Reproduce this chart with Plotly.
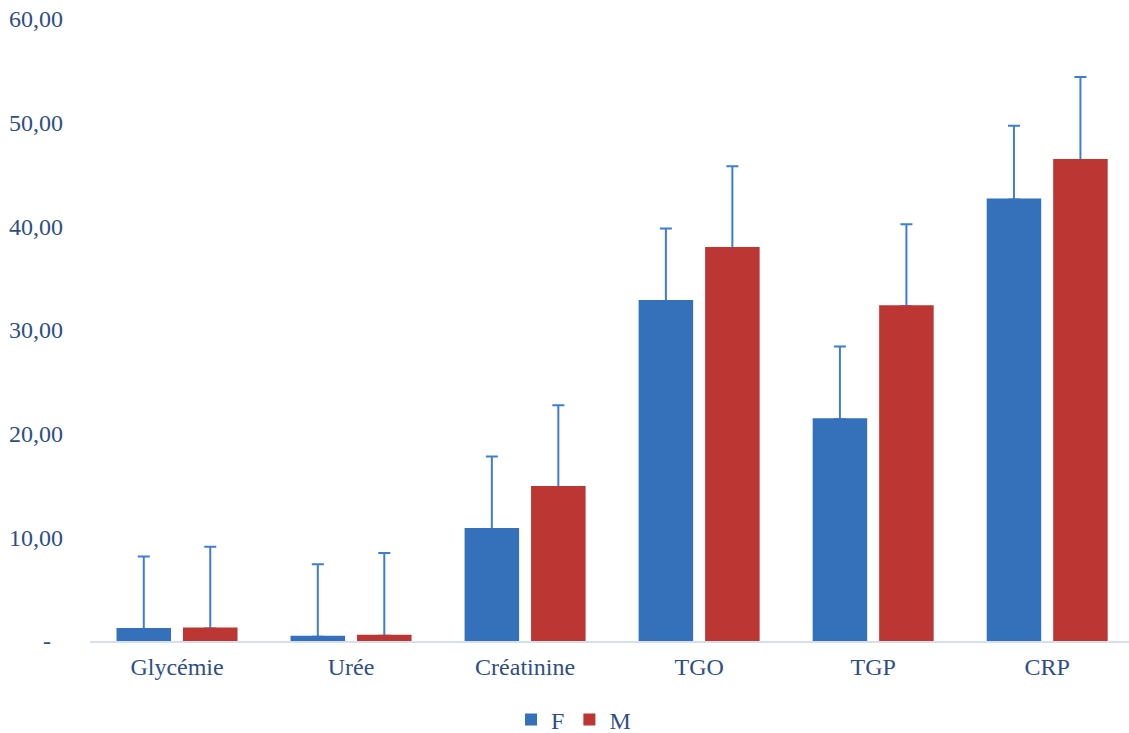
import plotly.graph_objects as go

categories = ["Glycémie", "Urée", "Créatinine", "TGO", "TGP", "CRP"]
f_values = [1.15, 0.4, 10.8, 32.8, 21.4, 42.6]
m_values = [1.2, 0.5, 14.85, 37.9, 32.3, 46.4]
f_errors = [7.0, 7.0, 7.0, 7.0, 7.0, 7.1]
m_errors = [7.9, 8.0, 7.9, 7.9, 7.9, 8.0]

y_tickvals = [0, 10, 20, 30, 40, 50, 60]
y_ticktext = ["-\u00a0\u00a0", "10,00", "20,00", "30,00", "40,00", "50,00", "60,00"]

F_COLOR = "#3571BA"
M_COLOR = "#BC3633"
ERR_COLOR = "#3D7ED4"
TEXT_COLOR = "#2E4F86"
FONT = "Liberation Serif, Times New Roman, serif"
FS = 24

fig = go.Figure()

# Bars carrying the (upper-only) error bars
for name, vals, errs, col in [("F", f_values, f_errors, F_COLOR), ("M", m_values, m_errors, M_COLOR)]:
    fig.add_trace(go.Bar(
        x=categories, y=vals, name=name, offsetgroup=name,
        marker=dict(color=col, line=dict(width=0)),
        error_y=dict(type="data", symmetric=False, array=errs,
                     arrayminus=[0] * len(errs), color=ERR_COLOR,
                     thickness=2, width=6),
        showlegend=True,
    ))

# Same bars drawn again on top to hide the lower part of the error bars
for name, vals, col in [("F", f_values, F_COLOR), ("M", m_values, M_COLOR)]:
    fig.add_trace(go.Bar(
        x=categories, y=vals, name=name, offsetgroup=name,
        marker=dict(color=col, line=dict(width=2, color=col)),
        showlegend=False, hoverinfo="skip",
    ))

fig.update_layout(
    width=1129, height=733,
    margin=dict(l=90, r=0, t=19, b=92),
    paper_bgcolor="white", plot_bgcolor="white",
    barmode="group", bargap=0.236, bargroupgap=0.21,
    font=dict(family=FONT, size=FS, color=TEXT_COLOR),
    showlegend=True,
    legend=dict(orientation="h", xref="container", yref="container",
                x=0.508, xanchor="center", y=0.018, yanchor="middle",
                font=dict(family=FONT, size=FS, color=TEXT_COLOR),
                traceorder="normal", itemclick=False),
)

fig.update_xaxes(
    range=[-0.5, 5.47], showline=True, linecolor="#D5DFEE", linewidth=2,
    showgrid=False, zeroline=False, ticks="", ticklabelstandoff=3,
    tickfont=dict(family=FONT, size=FS, color=TEXT_COLOR),
)
fig.update_yaxes(
    range=[0, 60], tickvals=y_tickvals, ticktext=y_ticktext,
    showline=False, showgrid=False, zeroline=False, ticks="",
    ticklabelstandoff=26,
    tickfont=dict(family=FONT, size=FS, color=TEXT_COLOR),
)

fig.write_html("out.html", config={"displayModeBar": False},
               post_script="document.body.style.margin='0';")
